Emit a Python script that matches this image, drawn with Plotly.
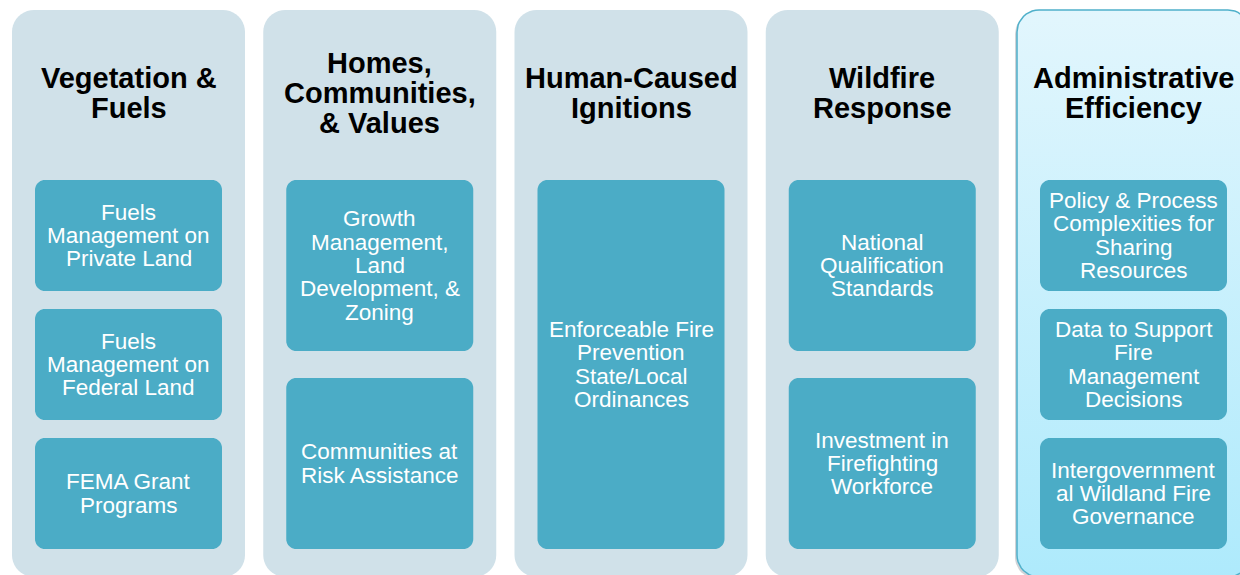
import math
import plotly.graph_objects as go

# column headings, one list of lines per column
titles = [
    ["Vegetation &", "Fuels"],
    ["Homes,", "Communities,", "& Values"],
    ["Human-Caused", "Ignitions"],
    ["Wildfire", "Response"],
    ["Administrative", "Efficiency"],
]

# boxes in each column, each box is a list of lines
items = [
    [["Fuels", "Management on", "Private Land"],
     ["Fuels", "Management on", "Federal Land"],
     ["FEMA Grant", "Programs"]],
    [["Growth", "Management,", "Land", "Development, &", "Zoning"],
     ["Communities at", "Risk Assistance"]],
    [["Enforceable Fire", "Prevention", "State/Local", "Ordinances"]],
    [["National", "Qualification", "Standards"],
     ["Investment in", "Firefighting", "Workforce"]],
    [["Policy & Process", "Complexities for", "Sharing", "Resources"],
     ["Data to Support", "Fire", "Management", "Decisions"],
     ["Intergovernment", "al Wildland Fire", "Governance"]],
]

highlight = 4  # the last column is drawn highlighted

W, H = 1240, 575
COL_X0, COL_STEP, COL_W = 12, 251.25, 233
COL_TOP, COL_BOT = 10, 577
BOX_PAD, BOX_TOP, BOX_BOT = 23, 180, 549
TITLE_MID, TITLE_LH, TEXT_LH = 93, 29.7, 23.3

BG = "#d0e1e9"
BOX = "#4bacc6"


def rounded(x0, y0, x1, y1, r, n=10):
    # outline of a rounded rectangle as a list of points
    xs, ys = [], []
    corners = [(x1 - r, y0 + r, -90, 0), (x1 - r, y1 - r, 0, 90),
               (x0 + r, y1 - r, 90, 180), (x0 + r, y0 + r, 180, 270)]
    for cx, cy, a0, a1 in corners:
        for k in range(n + 1):
            a = math.radians(a0 + (a1 - a0) * k / n)
            xs.append(cx + r * math.cos(a))
            ys.append(cy + r * math.sin(a))
    xs.append(xs[0])
    ys.append(ys[0])
    return xs, ys


def to_path(xs, ys):
    return "M " + " L ".join(f"{x:.2f},{y:.2f}" for x, y in zip(xs, ys)) + " Z"


fig = go.Figure()
shapes = []
annotations = []

for i, (title, boxes) in enumerate(zip(titles, items)):
    x0 = COL_X0 + i * COL_STEP
    x1 = x0 + COL_W
    xs, ys = rounded(x0, COL_TOP, x1, COL_BOT, 22)
    if i == highlight:
        sx, sy = rounded(x0 - 2, COL_TOP + 2, x1, COL_BOT + 2, 22)
        fig.add_trace(go.Scatter(x=sx, y=sy, fill="toself", mode="lines",
                                 line=dict(width=0), fillcolor="rgba(120,130,140,0.35)",
                                 hoverinfo="skip", showlegend=False))
        fig.add_trace(go.Scatter(x=xs, y=ys, fill="toself", mode="lines",
                                 line=dict(color="#4fb0ca", width=1.5),
                                 fillgradient=dict(type="vertical",
                                                   colorscale=[[0, "#aeeafc"], [1, "#e2f6fd"]]),
                                 hoverinfo="skip", showlegend=False))
    else:
        shapes.append(dict(type="path", path=to_path(xs, ys), fillcolor=BG,
                           line=dict(width=0), layer="below"))

    # heading
    n = len(title)
    for k, line in enumerate(title):
        y = TITLE_MID + (k - (n - 1) / 2) * TITLE_LH
        annotations.append(dict(x=(x0 + x1) / 2, y=y, text=f"<b>{line}</b>", showarrow=False,
                                xanchor="center", yanchor="middle",
                                font=dict(family="Liberation Sans, Arial", size=29, color="black")))

    # inner boxes
    nb = len(boxes)
    gap = 54 / nb if nb > 1 else 0
    bh = (BOX_BOT - BOX_TOP - gap * (nb - 1)) / nb
    bx0, bx1 = x0 + BOX_PAD, x1 - BOX_PAD
    for j, lines in enumerate(boxes):
        by0 = BOX_TOP + j * (bh + gap)
        by1 = by0 + bh
        bxs, bys = rounded(bx0, by0, bx1, by1, 10)
        shapes.append(dict(type="path", path=to_path(bxs, bys), fillcolor=BOX,
                           line=dict(width=0), layer="above"))
        m = len(lines)
        cy = (by0 + by1) / 2
        for k, line in enumerate(lines):
            y = cy + (k - (m - 1) / 2) * TEXT_LH
            annotations.append(dict(x=(bx0 + bx1) / 2, y=y, text=line, showarrow=False,
                                    xanchor="center", yanchor="middle",
                                    font=dict(family="Liberation Sans, Arial", size=22.5, color="white")))

fig.update_layout(
    width=W, height=H,
    margin=dict(l=0, r=0, t=0, b=0),
    paper_bgcolor="white", plot_bgcolor="white",
    shapes=shapes, annotations=annotations,
    showlegend=False,
)
fig.update_xaxes(range=[0, W], visible=False, fixedrange=True)
fig.update_yaxes(range=[H, 0], visible=False, fixedrange=True)

# drop the browser's default page margin so the figure sits at 0,0
fig.write_html("out.html", config={"displayModeBar": False},
               post_script="document.body.style.margin='0';document.body.style.overflow='hidden';")
